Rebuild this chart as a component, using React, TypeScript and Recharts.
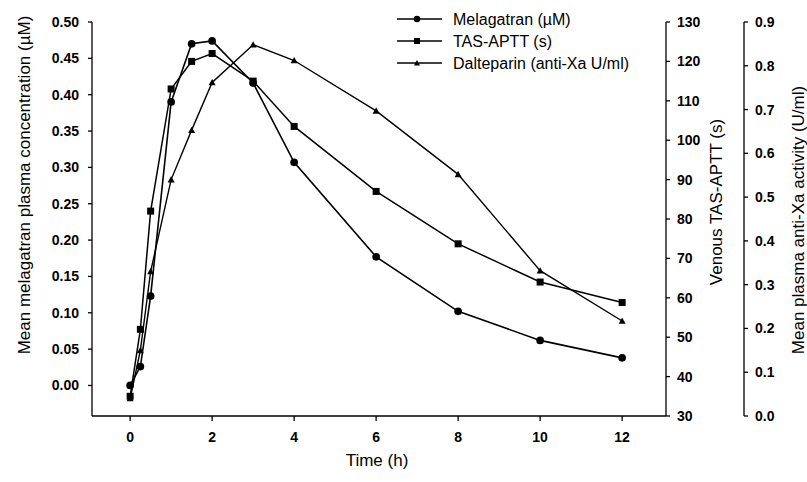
import { LineChart, Line, XAxis, YAxis, Legend } from "recharts"

const TIMES = [0, 0.25, 0.5, 1, 1.5, 2, 3, 4, 6, 8, 10, 12]
const MELAGATRAN = [0.0, 0.026, 0.123, 0.39, 0.47, 0.474, 0.416, 0.307, 0.177, 0.102, 0.062, 0.038]
const TAS_APTT = [35, 52, 82, 113, 120, 122, 115, 103.5, 87, 73.7, 64, 58.8]
const DALTEPARIN = [0.04, 0.15, 0.33, 0.54, 0.653, 0.762, 0.848, 0.812, 0.697, 0.552, 0.332, 0.217]

const X_TICKS = [0, 2, 4, 6, 8, 10, 12]
const MEL_TICKS = [0, 0.05, 0.1, 0.15, 0.2, 0.25, 0.3, 0.35, 0.4, 0.45, 0.5]
const TAS_TICKS = [30, 40, 50, 60, 70, 80, 90, 100, 110, 120, 130]
const XA_TICKS = [0, 0.1, 0.2, 0.3, 0.4, 0.5, 0.6, 0.7, 0.8, 0.9]

const SERIES = [
  { key: "mel", name: "Melagatran (\u00b5M)", shape: "circle" },
  { key: "tas", name: "TAS-APTT (s)", shape: "square" },
  { key: "dal", name: "Dalteparin (anti-Xa U/ml)", shape: "triangle" },
]

const rows = TIMES.map((t, i) => ({
  t,
  mel: MELAGATRAN[i],
  tas: TAS_APTT[i],
  dal: DALTEPARIN[i],
}))

const FONT = "'Liberation Sans', Arial, sans-serif"
const tickStyle = { fontSize: 14, fontWeight: 700, fill: "#000", fontFamily: FONT }
const axisLine = { stroke: "#000", strokeWidth: 1.3 }

function Marker({ shape, cx, cy, s }: { shape: string; cx: number; cy: number; s: number }) {
  if (shape === "circle") return <circle cx={cx} cy={cy} r={s * 0.55} fill="#000" />
  if (shape === "square")
    return <rect x={cx - s / 2} y={cy - s / 2} width={s} height={s} fill="#000" />
  return (
    <polygon
      points={`${cx - s / 2},${cy + s * 0.4} ${cx + s / 2},${cy + s * 0.4} ${cx},${cy - s * 0.5}`}
      fill="#000"
    />
  )
}

function makeDot(shape: string) {
  return (props: any) => {
    const { cx, cy, index } = props
    if (cx == null || cy == null) return <g key={`${shape}-${index}`} />
    return (
      <g key={`${shape}-${index}`}>
        <Marker shape={shape} cx={cx} cy={cy} s={7} />
      </g>
    )
  }
}

function LegendBox() {
  return (
    <svg width={260} height={80} style={{ display: "block" }}>
      {SERIES.map((s, i) => {
        const y = 19 + i * 22
        return (
          <g key={s.key}>
            <line x1={7} x2={52} y1={y} y2={y} stroke="#000" strokeWidth={1.4} />
            <Marker shape={s.shape} cx={27} cy={y} s={6} />
            <text
              x={63}
              y={y}
              dominantBaseline="central"
              style={{ fontSize: 16, fontFamily: FONT, fill: "#000" }}
            >
              {s.name}
            </text>
          </g>
        )
      })}
    </svg>
  )
}

function title(text: string, x: number, y: number) {
  return () => (
    <text
      x={x}
      y={y}
      transform={`rotate(-90 ${x} ${y})`}
      textAnchor="middle"
      dominantBaseline="central"
      style={{ fontSize: 17, fontFamily: FONT, fill: "#000" }}
    >
      {text}
    </text>
  )
}

export default function App() {
  return (
    <div style={{ position: "absolute", left: 0, top: 0, background: "#fff" }}>
      <LineChart
        width={807}
        height={482}
        data={rows}
        margin={{ top: 22, right: 0, bottom: 0, left: 0 }}
      >
        <XAxis
          dataKey="t"
          type="number"
          domain={[-0.93, 13.07]}
          ticks={X_TICKS}
          allowDataOverflow
          height={66}
          tickSize={5}
          tickMargin={11}
          axisLine={axisLine}
          tickLine={axisLine}
          tick={tickStyle}
          label={() => (
            <text
              x={377}
              y={466}
              textAnchor="middle"
              style={{ fontSize: 17, fontFamily: FONT, fill: "#000" }}
            >
              Time (h)
            </text>
          )}
        />
        <YAxis
          yAxisId="left"
          orientation="left"
          width={92}
          domain={[-0.042, 0.5]}
          ticks={MEL_TICKS}
          allowDataOverflow
          tickFormatter={(v: number) => v.toFixed(2)}
          tickSize={4}
          tickMargin={9}
          axisLine={axisLine}
          tickLine={axisLine}
          tick={tickStyle}
          label={title("Mean melagatran plasma concentration (\u00b5M)", 24, 185)}
        />
        <YAxis
          yAxisId="r1"
          orientation="right"
          width={78}
          domain={[30, 130]}
          ticks={TAS_TICKS}
          tickSize={4}
          tickMargin={7}
          axisLine={axisLine}
          tickLine={axisLine}
          tick={{ ...tickStyle, textAnchor: "start" }}
          label={title("Venous TAS-APTT (s)", 716, 202)}
        />
        <YAxis
          yAxisId="r2"
          orientation="right"
          width={63}
          domain={[0, 0.9]}
          ticks={XA_TICKS}
          tickFormatter={(v: number) => v.toFixed(1)}
          tickSize={4}
          tickMargin={7}
          axisLine={axisLine}
          tickLine={axisLine}
          tick={{ ...tickStyle, textAnchor: "start" }}
          label={title("Mean plasma anti-Xa activity (U/ml)", 798, 220)}
        />
        <Legend
          layout="horizontal"
          verticalAlign="middle"
          align="center"
          wrapperStyle={{ left: 390, top: 0, width: 260, height: 80 }}
          content={() => <LegendBox />}
        />
        <Line
          yAxisId="left"
          dataKey="mel"
          name={SERIES[0].name}
          stroke="#000"
          strokeWidth={1.6}
          dot={makeDot("circle")}
          activeDot={false}
          isAnimationActive={false}
        />
        <Line
          yAxisId="r1"
          dataKey="tas"
          name={SERIES[1].name}
          stroke="#000"
          strokeWidth={1.5}
          dot={makeDot("square")}
          activeDot={false}
          isAnimationActive={false}
        />
        <Line
          yAxisId="r2"
          dataKey="dal"
          name={SERIES[2].name}
          stroke="#000"
          strokeWidth={1.4}
          dot={makeDot("triangle")}
          activeDot={false}
          isAnimationActive={false}
        />
      </LineChart>
    </div>
  )
}
